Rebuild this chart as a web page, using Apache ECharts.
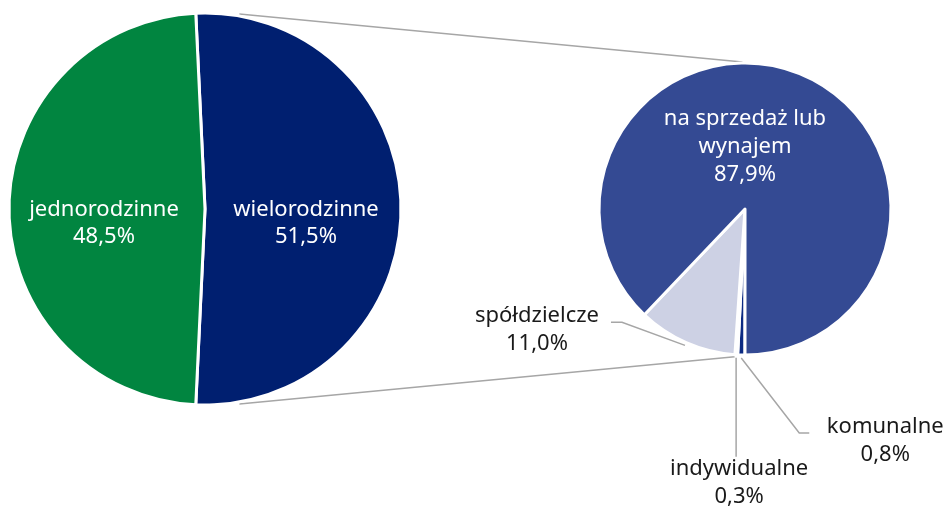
<!DOCTYPE html>
<html>
<head>
<meta charset="utf-8">
<script src="https://cdn.jsdelivr.net/npm/echarts@6/dist/echarts.min.js"></script>
<style>
  html, body { margin: 0; padding: 0; background: #fff; }
  #chart { width: 952px; height: 507px; }
</style>
</head>
<body>
<div id="chart"></div>
<script>
  // dane
  const leftNames = ['wielorodzinne', 'jednorodzinne']
  const leftValues = [51.5, 48.5]
  const leftColors = ['#001f70', '#018540']

  const rightNames = ['komunalne', 'indywidualne', 'spółdzielcze', 'na sprzedaż lub\nwynajem']
  const rightValues = [0.8, 0.3, 11.0, 87.9]
  const rightColors = ['#0b2a82', '#e4e7f1', '#cdd1e4', '#344a93']

  // uklad
  const LC = [205, 209], LR = 196
  const RC = [745, 209], RR = 146
  const FONT = 'Noto Sans'

  function pct(v) {
    return v.toFixed(1).replace('.', ',') + '%'
  }

  // srodkowy kat wycinka (stopnie, zgodnie z ruchem wskazowek od startAngle)
  function midAngle(values, start, idx) {
    let total = values.reduce((a, b) => a + b, 0)
    let acc = 0
    for (let i = 0; i < idx; i++) acc += values[i]
    return start - (acc + values[idx] / 2) / total * 360
  }
  function onCircle(c, r, deg) {
    let a = deg * Math.PI / 180
    return [c[0] + r * Math.cos(a), c[1] - r * Math.sin(a)]
  }

  const leftStart = 90 + (leftValues[0] - 50) / 100 * 180
  const rightStart = 270

  let chart = echarts.init(document.getElementById('chart'))

  let p1 = onCircle(LC, LR + 2, 80)
  let p2 = onCircle(RC, RR + 1, 91)
  let p3 = onCircle(LC, LR + 2, -80)
  let p4 = onCircle(RC, RR + 2, 266)

  let option = {
    animation: false,
    textStyle: { fontFamily: FONT },
    graphic: [
      { type: 'line', z: 0, shape: { x1: p1[0], y1: p1[1], x2: p2[0], y2: p2[1] }, style: { stroke: '#a6a6a6', lineWidth: 1.5 } },
      { type: 'line', z: 0, shape: { x1: p3[0], y1: p3[1], x2: p4[0], y2: p4[1] }, style: { stroke: '#a6a6a6', lineWidth: 1.5 } }
    ],
    series: [
      {
        type: 'pie',
        center: LC,
        radius: LR,
        startAngle: leftStart,
        clockwise: true,
        avoidLabelOverlap: false,
        itemStyle: { borderColor: '#fff', borderWidth: 3 },
        label: {
          show: true,
          position: 'inside',
          color: '#fff',
          fontSize: 22,
          lineHeight: 27,
          fontFamily: FONT,
          formatter: p => p.name + '\n' + pct(p.value)
        },
        labelLayout: { dy: 14 },
        emphasis: { disabled: true },
        data: leftNames.map((n, i) => ({ name: n, value: leftValues[i], itemStyle: { color: leftColors[i] } }))
      },
      {
        type: 'pie',
        center: RC,
        radius: RR,
        startAngle: rightStart,
        clockwise: true,
        avoidLabelOverlap: false,
        itemStyle: { borderColor: '#fff', borderWidth: 3 },
        label: {
          show: true,
          position: 'outside',
          color: '#1a1a1a',
          fontSize: 22,
          lineHeight: 28,
          fontFamily: FONT,
          align: 'center',
          formatter: p => p.name + '\n' + pct(p.value)
        },
        labelLine: {
          show: true,
          smooth: false,
          lineStyle: { color: '#a6a6a6', width: 1.5 }
        },
        labelLayout: function(params) {
          let i = params.dataIndex
          if (i === 3) {
            return { x: RC[0], y: RC[1] - 62, align: 'center', verticalAlign: 'middle' }
          }
          let a = midAngle(rightValues, rightStart, i)
          let s = onCircle(RC, RR + 3, a)
          let m, e, lx, ly
          if (i === 0) {
            m = [s[0] + 58, s[1] + 75]; e = [m[0] + 10, m[1]]
            lx = e[0] + 76; ly = e[1] + 8
          } else if (i === 1) {
            m = [s[0], s[1] + 50]; e = [s[0], s[1] + 99]
            lx = e[0] + 3; ly = e[1] + 26
          } else {
            m = [s[0] - 63, s[1] - 23]; e = [m[0] - 11, m[1]]
            lx = e[0] - 74; ly = e[1] + 7
          }
          return { x: lx, y: ly, align: 'center', verticalAlign: 'middle', labelLinePoints: [s, m, e] }
        },
        emphasis: { disabled: true },
        data: rightNames.map((n, i) => ({
          name: n,
          value: rightValues[i],
          itemStyle: { color: rightColors[i] },
          label: i === 3 ? { position: 'inside', color: '#fff' } : {},
          labelLine: i === 3 ? { show: false } : {}
        }))
      }
    ]
  }
  chart.setOption(option)
</script>
</body>
</html>
